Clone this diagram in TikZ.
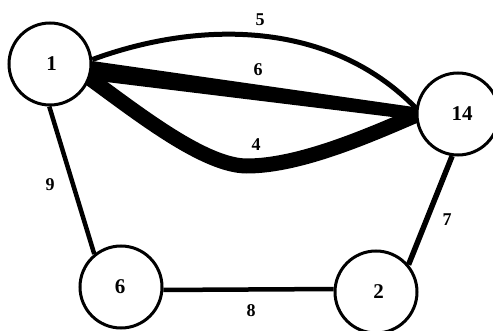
\documentclass[tikz,border=0pt]{standalone}
\usepackage{fontspec}
\setmainfont{Liberation Serif}
\usetikzlibrary{backgrounds}
\begin{document}
\begin{tikzpicture}[x=1pt,y=-1pt,
  vert/.style={circle,draw,line width=3pt,fill=white,minimum size=82pt,inner sep=0pt,font=\fontsize{21}{21}\selectfont\bfseries},
  elabel/.style={font=\fontsize{18}{18}\selectfont\bfseries,inner sep=0pt},
  thin edge/.style={line width=4.5pt},
  every path/.style={line cap=butt}]
\useasboundingbox (0,0) rectangle (493,331);
\node[vert] (n1) at (50,64) {\hspace{3pt}1};
\node[vert] (n14) at (458,114) {\hspace{8pt}14};
\node[vert] (n6) at (121,287) {\hspace{-2pt}6};
\node[vert] (n2) at (376,292) {\hspace{5pt}2};
\begin{scope}[on background layer]
\draw[line width=5pt] (n1.6) .. controls (200,20) and (330,20) .. (n14.172);
\fill (n1.4) -- (n14.171) -- (n14.188) -- (n1.-22) -- cycle;
\draw[line width=15pt] (n1.-20) .. controls (140,115) and (205,166) .. (247,166)
  .. controls (300,166) and (370,135) .. (n14.182);
\draw[thin edge] (n1.-91) -- (n6.129);
\draw[thin edge] (n6.-4) -- (n2.176);
\draw[line width=5.5pt] (n14.-98) -- (n2.40);
\end{scope}
\node[elabel] (l5) at (260,20) {5};
\node[elabel] (l6) at (258,70) {6};
\node[elabel] (l4) at (256,145) {4};
\node[elabel] (l9) at (50,185) {9};
\node[elabel] (l8) at (251,311) {8};
\node[elabel] (l7) at (447,220) {7};
\end{tikzpicture}
\end{document}
